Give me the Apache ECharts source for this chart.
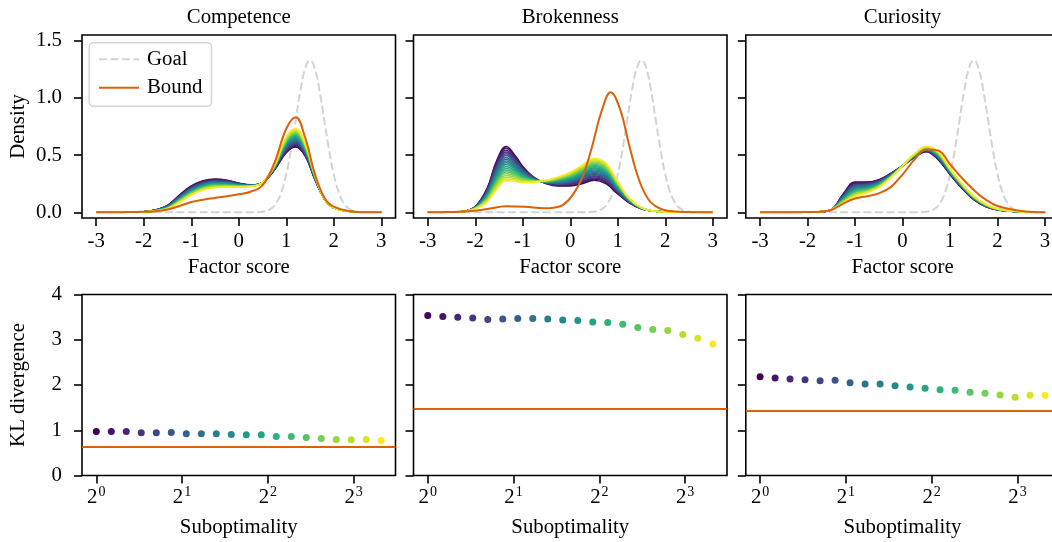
<!DOCTYPE html>
<html><head><meta charset="utf-8">
<script src="https://cdn.jsdelivr.net/npm/echarts@6.0.0/dist/echarts.min.js"></script>
<style>html,body{margin:0;padding:0;background:#fff}#c{width:1052px;height:542px}</style>
</head><body><div id="c"></div>
<script>
// ---------- data ----------
const panelTitles = ['Competence', 'Brokenness', 'Curiosity'];
const factorTicks = [-3, -2, -1, 0, 1, 2, 3];
const densityTicks = [0, 0.5, 1.0, 1.5];
const klTicks = [0, 1, 2, 3, 4];
const subTicks = [1, 2, 4, 8];
const subTickExp = ['0', '1', '2', '3'];

const goalX = [-3, 0.3, 0.5, 0.7, 0.8, 0.9, 1.0, 1.1, 1.2, 1.3, 1.4, 1.5, 1.6, 1.7, 1.8, 1.9, 2.0, 2.1, 2.2, 2.3, 2.5, 2.7, 3];
const goalY = [0, 0, 0.005, 0.038, 0.087, 0.180, 0.332, 0.547, 0.807, 1.065, 1.258, 1.330, 1.258, 1.065, 0.807, 0.547, 0.332, 0.180, 0.087, 0.038, 0.005, 0, 0];

const competenceX = [-3, -2.5, -2, -1.75, -1.5, -1.25, -1, -0.75, -0.5, -0.25, 0, 0.25, 0.5, 0.75, 1, 1.2, 1.4, 1.6, 1.8, 2, 2.5, 3];
const competenceBound = [0, .001, .004, .01, .025, .055, .09, .11, .125, .14, .157, .18, .235, .43, .73, .83, .65, .34, .13, .05, .003, 0];
const competenceCurves = [
[0,.001,.005,.020,.060,.150,.230,.275,.290,.280,.255,.240,.26,.370,.520,.570,.490,.290,.12,.04,.003,0],
[0,.001,.005,.020,.058,.147,.226,.271,.286,.277,.253,.239,.26,.372,.527,.578,.496,.292,.12,.04,.003,0],
[0,.001,.005,.020,.057,.143,.222,.267,.282,.274,.251,.238,.26,.374,.535,.587,.502,.294,.12,.04,.003,0],
[0,.001,.005,.020,.055,.140,.217,.262,.278,.271,.249,.238,.26,.376,.542,.595,.507,.296,.12,.04,.003,0],
[0,.001,.005,.020,.054,.136,.213,.258,.274,.267,.248,.237,.26,.378,.549,.604,.513,.298,.12,.04,.003,0],
[0,.001,.005,.018,.052,.133,.209,.254,.270,.264,.246,.236,.26,.381,.557,.612,.519,.301,.12,.04,.003,0],
[0,.001,.005,.018,.051,.129,.205,.250,.266,.261,.244,.235,.26,.383,.564,.621,.525,.303,.12,.04,.003,0],
[0,.001,.005,.018,.049,.126,.201,.246,.262,.258,.242,.234,.26,.385,.572,.629,.531,.305,.12,.04,.003,0],
[0,.001,.005,.018,.047,.123,.196,.241,.258,.255,.240,.234,.26,.387,.579,.637,.536,.307,.12,.04,.003,0],
[0,.001,.005,.018,.046,.119,.192,.237,.254,.252,.238,.233,.26,.389,.586,.646,.542,.309,.12,.04,.003,0],
[0,.001,.005,.015,.044,.116,.188,.233,.251,.248,.237,.232,.26,.391,.594,.654,.548,.311,.12,.04,.003,0],
[0,.001,.005,.015,.043,.112,.184,.229,.247,.245,.235,.231,.26,.393,.601,.663,.554,.313,.12,.04,.003,0],
[0,.001,.005,.015,.041,.109,.179,.224,.243,.242,.233,.231,.26,.395,.608,.671,.559,.315,.12,.04,.003,0],
[0,.001,.005,.015,.039,.106,.175,.220,.239,.239,.231,.230,.26,.397,.616,.679,.565,.317,.12,.04,.003,0],
[0,.001,.005,.015,.038,.102,.171,.216,.235,.236,.229,.229,.26,.399,.623,.688,.571,.319,.12,.04,.003,0],
[0,.001,.005,.012,.036,.099,.167,.212,.231,.233,.227,.228,.26,.402,.631,.696,.577,.322,.12,.04,.003,0],
[0,.001,.005,.012,.035,.095,.163,.208,.227,.229,.226,.227,.26,.404,.638,.705,.583,.324,.12,.04,.003,0],
[0,.001,.005,.012,.033,.092,.158,.203,.223,.226,.224,.227,.26,.406,.645,.713,.588,.326,.12,.04,.003,0],
[0,.001,.005,.012,.032,.088,.154,.199,.219,.223,.222,.226,.26,.408,.653,.722,.594,.328,.12,.04,.003,0],
[0,.001,.005,.012,.030,.085,.150,.195,.215,.220,.220,.225,.26,.410,.660,.730,.600,.330,.12,.04,.003,0]
];

const brokennessX = [-3, -2.5, -2.25, -2, -1.75, -1.55, -1.35, -1.15, -1, -0.75, -0.5, -0.25, 0, 0.25, 0.5, 0.75, 1, 1.25, 1.5, 1.75, 2, 2.5, 3];
const brokennessBoundX = [-3, -2.55, -2.15, -1.75, -1.35, -0.95, -0.55, -0.35, -0.15, 0.05, 0.25, 0.45, 0.65, 0.85, 1.05, 1.25, 1.45, 1.65, 1.85, 2.05, 2.45, 3];
const brokennessBound = [0, .002, .008, .028, .053, .048, .035, .04, .065, .15, .30, .56, .87, 1.05, .90, .57, .28, .11, .04, .013, .002, 0];
const brokennessCurves = [
[0,.001,.007,.050,.210,.450,.575,.490,.400,.300,.250,.230,.230,.250,.280,.250,.160,.080,.030,.011,.003,0,0],
[0,.001,.007,.049,.204,.437,.559,.478,.393,.298,.252,.234,.236,.258,.290,.259,.166,.082,.031,.011,.003,0,0],
[0,.001,.007,.048,.197,.424,.543,.467,.385,.296,.253,.238,.243,.267,.300,.269,.172,.084,.031,.011,.003,0,0],
[0,.001,.007,.047,.191,.411,.528,.455,.378,.294,.255,.243,.249,.275,.310,.278,.177,.086,.032,.011,.003,0,0],
[0,.001,.007,.046,.185,.397,.512,.444,.371,.293,.256,.247,.255,.284,.320,.288,.183,.088,.032,.011,.003,0,0],
[0,.001,.007,.045,.178,.384,.496,.432,.363,.291,.258,.251,.262,.292,.330,.297,.189,.091,.033,.011,.003,0,0],
[0,.001,.007,.044,.172,.371,.480,.421,.356,.289,.259,.255,.268,.301,.340,.307,.195,.093,.033,.011,.003,0,0],
[0,.001,.007,.043,.166,.358,.464,.409,.348,.287,.261,.259,.274,.309,.350,.316,.201,.095,.034,.011,.003,0,0],
[0,.001,.007,.042,.159,.345,.449,.397,.341,.285,.263,.264,.281,.317,.360,.326,.206,.097,.034,.011,.003,0,0],
[0,.001,.007,.041,.153,.332,.433,.386,.334,.283,.264,.268,.287,.326,.370,.335,.212,.099,.035,.011,.003,0,0],
[0,.001,.007,.039,.147,.318,.417,.374,.326,.282,.266,.272,.293,.334,.380,.345,.218,.101,.035,.011,.003,0,0],
[0,.001,.007,.038,.141,.305,.401,.363,.319,.280,.267,.276,.299,.343,.390,.354,.224,.103,.036,.011,.003,0,0],
[0,.001,.007,.037,.134,.292,.386,.351,.312,.278,.269,.281,.306,.351,.400,.364,.229,.105,.036,.011,.003,0,0],
[0,.001,.007,.036,.128,.279,.370,.339,.304,.276,.270,.285,.312,.359,.410,.373,.235,.107,.037,.011,.003,0,0],
[0,.001,.007,.035,.122,.266,.354,.328,.297,.274,.272,.289,.318,.368,.420,.383,.241,.109,.037,.011,.003,0,0],
[0,.001,.007,.034,.115,.253,.338,.316,.289,.272,.274,.293,.325,.376,.430,.392,.247,.112,.038,.011,.003,0,0],
[0,.001,.007,.033,.109,.239,.322,.305,.282,.271,.275,.297,.331,.385,.440,.402,.253,.114,.038,.011,.003,0,0],
[0,.001,.007,.032,.103,.226,.307,.293,.275,.269,.277,.302,.337,.393,.450,.411,.258,.116,.039,.011,.003,0,0],
[0,.001,.007,.031,.096,.213,.291,.282,.267,.267,.278,.306,.344,.402,.460,.421,.264,.118,.039,.011,.003,0,0],
[0,.001,.007,.030,.090,.200,.275,.270,.260,.265,.280,.310,.350,.410,.470,.430,.270,.120,.040,.011,.003,0,0]
];

const curiosityX = [-3, -2, -1.75, -1.5, -1.25, -1, -0.75, -0.5, -0.25, 0, 0.25, 0.5, 0.75, 1, 1.25, 1.5, 1.75, 2, 2.5, 3];
const curiosityBound = [0, .002, .005, .02, .075, .12, .14, .165, .22, .33, .46, .55, .54, .42, .30, .195, .11, .055, .012, 0];
const curiosityCurves = [
[0,.002,.005,.022,.160,.265,.265,.285,.340,.405,.480,.530,.460,.330,.210,.110,.050,.020,.004,0],
[0,.002,.005,.022,.156,.258,.260,.281,.338,.405,.482,.532,.464,.333,.212,.112,.051,.021,.004,0],
[0,.002,.005,.022,.152,.252,.255,.278,.336,.405,.483,.535,.467,.335,.214,.113,.052,.021,.004,0],
[0,.002,.005,.022,.147,.245,.250,.274,.334,.405,.485,.537,.471,.338,.216,.115,.053,.022,.004,0],
[0,.002,.005,.022,.143,.239,.245,.270,.332,.405,.486,.539,.475,.341,.218,.116,.054,.022,.004,0],
[0,.002,.005,.022,.139,.232,.240,.267,.329,.405,.488,.542,.478,.343,.221,.118,.055,.023,.004,0],
[0,.002,.005,.022,.135,.226,.235,.263,.327,.405,.489,.544,.482,.346,.223,.119,.056,.023,.004,0],
[0,.002,.005,.022,.131,.219,.230,.259,.325,.405,.491,.547,.486,.348,.225,.121,.057,.024,.004,0],
[0,.002,.005,.022,.126,.212,.225,.256,.323,.405,.493,.549,.489,.351,.227,.123,.058,.024,.004,0],
[0,.002,.005,.022,.122,.206,.220,.252,.321,.405,.494,.551,.493,.354,.229,.124,.059,.025,.004,0],
[0,.002,.005,.022,.118,.199,.215,.248,.319,.405,.496,.554,.497,.356,.231,.126,.061,.025,.004,0],
[0,.002,.005,.022,.114,.193,.210,.244,.317,.405,.497,.556,.501,.359,.233,.127,.062,.026,.004,0],
[0,.002,.005,.022,.109,.186,.205,.241,.315,.405,.499,.558,.504,.362,.235,.129,.063,.026,.004,0],
[0,.002,.005,.022,.105,.180,.200,.237,.313,.405,.500,.561,.508,.364,.237,.130,.064,.027,.004,0],
[0,.002,.005,.022,.101,.173,.195,.233,.311,.405,.502,.563,.512,.367,.239,.132,.065,.027,.004,0],
[0,.002,.005,.022,.097,.167,.190,.230,.308,.405,.504,.565,.515,.370,.242,.134,.066,.028,.004,0],
[0,.002,.005,.022,.093,.160,.185,.226,.306,.405,.505,.568,.519,.372,.244,.135,.067,.028,.004,0],
[0,.002,.005,.022,.088,.153,.180,.222,.304,.405,.507,.570,.523,.375,.246,.137,.068,.029,.004,0],
[0,.002,.005,.022,.084,.147,.175,.219,.302,.405,.508,.573,.526,.377,.248,.138,.069,.029,.004,0],
[0,.002,.005,.022,.080,.140,.170,.215,.300,.405,.510,.575,.530,.380,.250,.140,.070,.030,.004,0]
];

const suboptimality = [1, 1.129, 1.274, 1.438, 1.624, 1.833, 2.069, 2.336, 2.637, 2.976, 3.360, 3.793, 4.281, 4.833, 5.456, 6.158, 6.952, 7.848, 8.859, 10];
const klCompetence = [0.974, 0.974, 0.974, 0.945, 0.945, 0.952, 0.922, 0.922, 0.922, 0.908, 0.900, 0.900, 0.863, 0.863, 0.841, 0.819, 0.797, 0.790, 0.797, 0.775];
const klBrokenness = [3.535, 3.513, 3.498, 3.483, 3.446, 3.461, 3.469, 3.469, 3.461, 3.439, 3.424, 3.395, 3.380, 3.343, 3.269, 3.225, 3.203, 3.114, 3.033, 2.908];
const klCuriosity = [2.185, 2.155, 2.133, 2.118, 2.096, 2.103, 2.052, 2.022, 2.022, 1.985, 1.956, 1.926, 1.897, 1.882, 1.838, 1.815, 1.779, 1.727, 1.771, 1.771];
const klBound = [0.635, 1.483, 1.424];

// ---------- styling / layout ----------
const FONT = "'Liberation Serif','Times New Roman',serif";
const FS = 20.8;
const ORANGE = '#dc6108';
const GOALC = '#d3d3d3';
const colLeft = [82, 413.5, 745.8], colW = 313.5;
const rowTop = [35, 294.5], rowH = [183, 181];
const viridisStops = ['#440154','#482878','#3E4A89','#31688E','#26828E','#1F9E89','#35B779','#6DCD59','#B4DE2C','#FDE725'];
function hexRgb(h){return [parseInt(h.slice(1,3),16),parseInt(h.slice(3,5),16),parseInt(h.slice(5,7),16)];}
function viridis(t){
  const s = t*9, k = Math.min(8, Math.floor(s)), f = s-k;
  const a = hexRgb(viridisStops[k]), b = hexRgb(viridisStops[k+1]);
  return 'rgb(' + a.map((v,i)=>Math.round(v+(b[i]-v)*f)).join(',') + ')';
}
const NC = 20;
const famColors = Array.from({length: NC}, (_, i) => viridis(i/(NC-1)));

const panelX = [competenceX, brokennessX, curiosityX];
const panelCurves = [competenceCurves, brokennessCurves, curiosityCurves];
const panelBoundX = [competenceX, brokennessBoundX, curiosityX];
const panelBound = [competenceBound, brokennessBound, curiosityBound];
const panelKL = [klCompetence, klBrokenness, klCuriosity];

const tickStyle = {show: true, inside: false, length: 8, lineStyle: {color: '#000', width: 1.6}};
const noLine = {show: false, onZero: false};
const txt = {fontFamily: FONT, fontSize: FS, color: '#000'};

const grids = [], xAxes = [], yAxes = [], series = [], titles = [];
for (let r = 0; r < 2; r++) {
  for (let c = 0; c < 3; c++) {
    const gi = r*3 + c;
    grids.push({left: colLeft[c], top: rowTop[r], width: colW, height: rowH[r], show: true,
      borderColor: '#000', borderWidth: 1.6, backgroundColor: 'rgba(0,0,0,0)', containLabel: false, outerBoundsMode: 'none'});
    if (r === 0) {
      titles.push({text: panelTitles[c], left: colLeft[c] + colW/2, top: 7, textAlign: 'center', padding: 0,
        textStyle: Object.assign({fontWeight: 'normal'}, txt)});
      xAxes.push({gridIndex: gi, type: 'value', min: -3.3, max: 3.3, position: 'bottom',
        axisLine: noLine, splitLine: {show: false},
        axisTick: Object.assign({customValues: factorTicks}, tickStyle),
        axisLabel: Object.assign({customValues: factorTicks, margin: 13, formatter: v => String(v)}, txt),
        name: 'Factor score', nameLocation: 'middle', nameGap: 39, nameTextStyle: txt});
      yAxes.push({gridIndex: gi, type: 'value', min: -0.05, max: 1.55, position: 'left',
        axisLine: noLine, splitLine: {show: false},
        axisTick: Object.assign({customValues: densityTicks}, tickStyle),
        axisLabel: Object.assign({show: c === 0, customValues: densityTicks, margin: 20, formatter: v => v.toFixed(1)}, txt),
        name: c === 0 ? 'Density' : '', nameLocation: 'middle', nameGap: 53, nameTextStyle: txt});
      // goal
      series.push({type: 'line', name: 'Goal', xAxisIndex: gi, yAxisIndex: gi, smooth: true, symbol: 'none', showSymbol: false,
        data: goalX.map((x, j) => [x, goalY[j]]), z: 1, silent: true,
        lineStyle: {color: GOALC, width: 2, type: [8, 3.5]}, itemStyle: {color: GOALC}});
      // family
      panelCurves[c].forEach((row, i) => {
        series.push({type: 'line', name: 'curve' + c + '_' + i, xAxisIndex: gi, yAxisIndex: gi, smooth: 0.4,
          symbol: 'none', silent: true, z: 2,
          data: panelX[c].map((x, j) => [x, row[j]]),
          lineStyle: {color: famColors[i], width: 1.5}, itemStyle: {color: famColors[i]}});
      });
      // bound
      series.push({type: 'line', name: 'Bound', xAxisIndex: gi, yAxisIndex: gi, smooth: 0.4,
        symbol: 'none', showSymbol: false, silent: true, z: 3,
        data: panelBoundX[c].map((x, j) => [x, panelBound[c][j]]),
        lineStyle: {color: ORANGE, width: 2}, itemStyle: {color: ORANGE}});
    } else {
      xAxes.push({gridIndex: gi, type: 'log', logBase: 2, min: 0.891, max: 11.22, position: 'bottom',
        axisLine: noLine, splitLine: {show: false},
        axisTick: Object.assign({customValues: subTicks}, tickStyle),
        axisLabel: {customValues: subTicks, margin: 10,
          formatter: v => '{b|2}{s|' + subTickExp[subTicks.indexOf(Math.round(v))] + '}',
          rich: {b: {fontFamily: FONT, fontSize: FS, color: '#000', lineHeight: 24},
                 s: {fontFamily: FONT, fontSize: 14, color: '#000', lineHeight: 14, verticalAlign: 'top', padding: [0, 0, 0, 1]}}},
        name: 'Suboptimality', nameLocation: 'middle', nameGap: 42, nameTextStyle: txt});
      yAxes.push({gridIndex: gi, type: 'value', min: 0, max: 4, position: 'left',
        axisLine: noLine, splitLine: {show: false},
        axisTick: Object.assign({customValues: klTicks}, tickStyle),
        axisLabel: Object.assign({show: c === 0, customValues: klTicks, margin: 20}, txt),
        name: c === 0 ? 'KL divergence' : '', nameLocation: 'middle', nameGap: 53, nameTextStyle: txt});
      series.push({type: 'scatter', name: 'kl' + c, xAxisIndex: gi, yAxisIndex: gi, symbolSize: 7, silent: true,
        data: suboptimality.map((s, j) => [s, panelKL[c][j]]),
        itemStyle: {color: p => famColors[p.dataIndex], opacity: 1},
        markLine: {silent: true, symbol: ['none', 'none'], label: {show: false}, animation: false,
          lineStyle: {color: ORANGE, width: 2, type: 'solid'}, data: [{yAxis: klBound[c]}]}});
    }
  }
}

const chart = echarts.init(document.getElementById('c'), null, {renderer: 'canvas'});
chart.setOption({
  animation: false,
  backgroundColor: '#fff',
  title: titles,
  grid: grids,
  xAxis: xAxes,
  yAxis: yAxes,
  legend: {data: ['Goal', 'Bound'], orient: 'vertical', left: 89.3, top: 42.7, padding: [6, 9, 8, 8.7],
    itemWidth: 40, itemHeight: 14, itemGap: 7.5, selectedMode: false,
    itemStyle: {opacity: 0, borderWidth: 0},
    borderColor: '#d6d6d6', borderWidth: 1.5, borderRadius: 4, backgroundColor: 'rgba(255,255,255,0.8)',
    textStyle: {fontFamily: FONT, fontSize: FS, color: '#000', padding: [0, 0, 0, 3]}},
  series: series
});
</script></body></html>
